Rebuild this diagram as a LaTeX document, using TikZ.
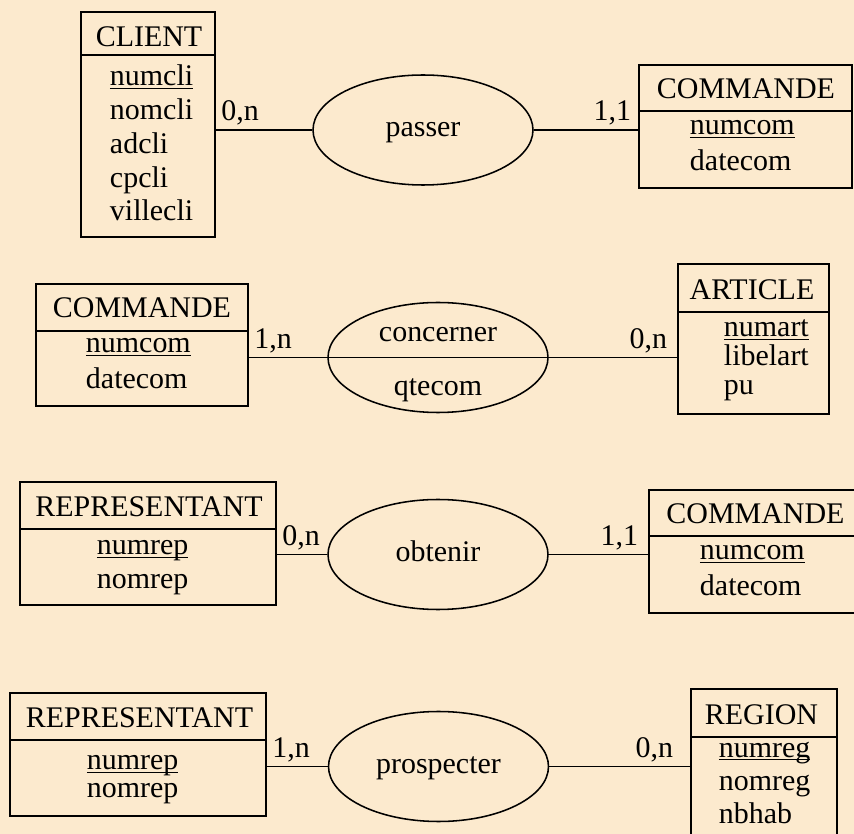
\documentclass[tikz,border=0pt]{standalone}
\usepackage{fontspec}
\setmainfont{Liberation Serif}
\newfontfamily\mcdfont{Liberation Serif}
\usetikzlibrary{shapes.geometric}
\definecolor{mcdbg}{RGB}{252,234,206}
\newsavebox{\keybox}
\newcommand{\keyattr}[1]{\sbox{\keybox}{#1}\rlap{\rule[-2.4pt]{\wd\keybox}{1.1pt}}\usebox{\keybox}}

\begin{document}
\begin{tikzpicture}[line width=1.4pt,
  entity/.style={draw, rectangle, inner sep=0pt},
  header/.style={anchor=base, inner sep=0pt, font=\mcdfont\fontsize{21.3pt}{24pt}\selectfont},
  attrs/.style={anchor=base west, inner sep=0pt, text width=4cm, align=left, font=\mcdfont\fontsize{21.3pt}{#1}\selectfont},
  attrs/.default=23.5pt,
  relation/.style={draw, ellipse, line width=1.1pt, inner sep=0pt, minimum width=5.5cm, minimum height=2.75cm, text height=0.35cm, text depth=0pt, font=\mcdfont\fontsize{21.3pt}{24pt}\selectfont},
  cardl/.style={anchor=base west, inner sep=0pt, xshift=0.11cm, yshift=0.225cm, font=\mcdfont\fontsize{21.3pt}{24pt}\selectfont},
  cardr/.style={anchor=base east, inner sep=0pt, xshift=-0.2cm, yshift=0.225cm, font=\mcdfont\fontsize{21.3pt}{24pt}\selectfont}]
\useasboundingbox (0cm,0cm) rectangle (21.35cm,-20.85cm);
\fill[mcdbg] (0cm,0cm) rectangle (21.35cm,-20.85cm);

% CLIENT -- passer -- COMMANDE
\node[entity, minimum width=3.35cm, minimum height=5.625cm] (client) at (3.7cm,-3.1125cm) {};
\draw (client.west |- 0cm,-1.375cm) -- (client.east |- 0cm,-1.375cm);
\node[header] (client-name) at (3.725cm,-1.175cm) {CLIENT};
\node[attrs=24pt] (client-attr) at (2.725cm,-2.15cm) {\keyattr{numcli}\\ nomcli\\ adcli\\ cpcli\\ villecli};
\node[relation] (passer) at (10.575cm,-3.25cm) {passer};
\node[entity, minimum width=5.325cm, minimum height=3.075cm] (cmdA) at (18.6375cm,-3.1625cm) {};
\draw (cmdA.west |- 0cm,-2.775cm) -- (cmdA.east |- 0cm,-2.775cm);
\node[header] (cmdA-name) at (18.65cm,-2.475cm) {COMMANDE};
\node[attrs=24.9pt] (cmdA-attr) at (17.225cm,-3.375cm) {\keyattr{numcom}\\ datecom};
\draw (client.east |- passer.west) -- node[cardl, pos=0] (card-client) {0,n} (passer.west);
\draw (passer.east) -- node[cardr, pos=1, xshift=0.05cm] (card-cmdA) {1,1} (passer.east -| cmdA.west);

% COMMANDE -- concerner -- ARTICLE
\node[entity, minimum width=5.3cm, minimum height=3.05cm] (cmdB) at (3.55cm,-8.625cm) {};
\draw (cmdB.west |- 0cm,-8.275cm) -- (cmdB.east |- 0cm,-8.275cm);
\node[header] (cmdB-name) at (3.55cm,-7.95cm) {COMMANDE};
\node[attrs=24.9pt] (cmdB-attr) at (2.125cm,-8.825cm) {\keyattr{numcom}\\ datecom};
\node[relation] (concerner) at (10.95cm,-8.9375cm) {};
\node[header] (concerner-name) at (10.95cm,-8.55cm) {concerner};
\node[header] (concerner-qte) at (10.95cm,-9.9cm) {qtecom};
\node[entity, minimum width=3.775cm, minimum height=3.75cm] (article) at (18.8375cm,-8.475cm) {};
\draw (article.west |- 0cm,-7.8cm) -- (article.east |- 0cm,-7.8cm);
\node[header] (article-name) at (18.8cm,-7.5cm) {ARTICLE};
\node[attrs=20.6pt] (article-attr) at (18.075cm,-8.425cm) {\keyattr{numart}\\ libelart\\ pu};
\draw (cmdB.east |- concerner.west) -- node[cardl, pos=0] (card-cmdB) {1,n}
  node[cardr, pos=1, xshift=-0.025cm] (card-article) {0,n} (concerner.east -| article.west);

% REPRESENTANT -- obtenir -- COMMANDE
\node[entity, minimum width=6.4cm, minimum height=3.075cm] (repA) at (3.7cm,-13.5875cm) {};
\draw (repA.west |- 0cm,-13.225cm) -- (repA.east |- 0cm,-13.225cm);
\node[header] (repA-name) at (3.725cm,-12.925cm) {REPRESENTANT};
\node[attrs] (repA-attr) at (2.4cm,-13.875cm) {\keyattr{numrep}\\ nomrep};
\node[relation] (obtenir) at (10.95cm,-13.8625cm) {obtenir};
\node[entity, minimum width=5.325cm, minimum height=3.075cm] (cmdC) at (18.8875cm,-13.7875cm) {};
\draw (cmdC.west |- 0cm,-13.4cm) -- (cmdC.east |- 0cm,-13.4cm);
\node[header] (cmdC-name) at (18.8875cm,-13.1cm) {COMMANDE};
\node[attrs=24.9pt] (cmdC-attr) at (17.475cm,-14cm) {\keyattr{numcom}\\ datecom};
\draw (repA.east |- obtenir.west) -- node[cardl, pos=0] (card-repA) {0,n} (obtenir.west);
\draw (obtenir.east) -- node[cardr, pos=1, xshift=-0.025cm] (card-cmdC) {1,1} (obtenir.east -| cmdC.west);

% REPRESENTANT -- prospecter -- REGION
\node[entity, minimum width=6.4cm, minimum height=3.075cm] (repB) at (3.45cm,-18.8625cm) {};
\draw (repB.west |- 0cm,-18.5cm) -- (repB.east |- 0cm,-18.5cm);
\node[header] (repB-name) at (3.4875cm,-18.2cm) {REPRESENTANT};
\node[attrs=19.9pt] (repB-attr) at (2.15cm,-19.25cm) {\keyattr{numrep}\\ nomrep};
\node[relation] (prospecter) at (10.9625cm,-19.1625cm) {prospecter};
\node[entity, minimum width=3.65cm, minimum height=3.8cm] (region) at (19.1cm,-19.125cm) {};
\draw (region.west |- 0cm,-18.425cm) -- (region.east |- 0cm,-18.425cm);
\node[header] (region-name) at (19.0375cm,-18.125cm) {REGION};
\node[attrs] (region-attr) at (17.95cm,-18.925cm) {\keyattr{numreg}\\ nomreg\\ nbhab};
\draw (repB.east |- prospecter.west) -- node[cardl, pos=0] (card-repB) {1,n} (prospecter.west);
\draw (prospecter.east) -- node[cardr, pos=1, xshift=-0.2cm] (card-region) {0,n} (prospecter.east -| region.west);
\end{tikzpicture}
\end{document}
